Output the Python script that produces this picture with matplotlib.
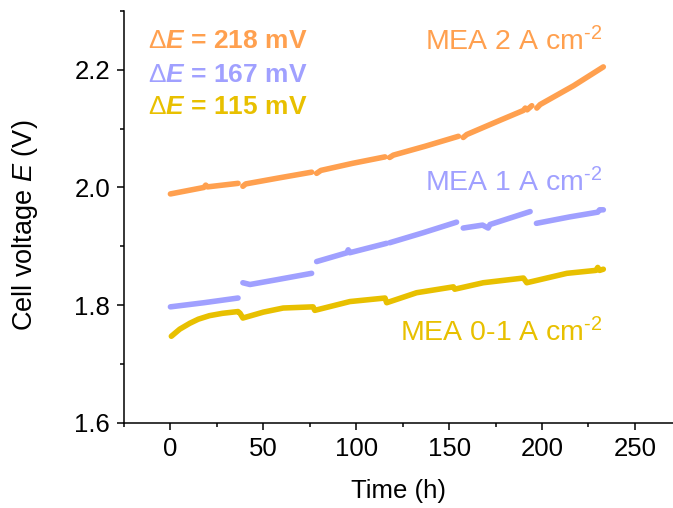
import numpy as np
import matplotlib
matplotlib.use('Agg')
import matplotlib.pyplot as plt
from matplotlib.ticker import MultipleLocator

plt.rcParams['font.family'] = ['Liberation Sans', 'DejaVu Sans']
plt.rcParams['mathtext.fontset'] = 'custom'
plt.rcParams['mathtext.rm'] = 'Liberation Sans'
plt.rcParams['mathtext.it'] = 'Liberation Sans:italic'
plt.rcParams['mathtext.bf'] = 'Liberation Sans:bold'
plt.rcParams['mathtext.bfit'] = 'Liberation Sans:bold:italic'

nan = np.nan

#----------------------------------------
# MEA 2 A cm-2 (gaps between test blocks as nan)
t_2A = [0, 18, 19, 20, 36.4, nan,
        39, 40.5, 58, 76, nan,
        78.7, 81, 98, 115.5, nan,
        118, 120, 137, 155, nan,
        157.6, 159.5, 176.5, 190, 191, 192, 194.5, nan,
        197.2, 199, 217, 233]
v_2A = [1.989, 2.000, 2.004, 2.001, 2.007, nan,
        2.002, 2.006, 2.016, 2.026, nan,
        2.024, 2.029, 2.041, 2.052, nan,
        2.051, 2.055, 2.070, 2.087, nan,
        2.085, 2.090, 2.113, 2.131, 2.135, 2.132, 2.139, nan,
        2.135, 2.141, 2.173, 2.205]

# MEA 1 A cm-2
t_1A = [0, 18, 36.4, nan,
        39, 42.8, 57, 76, nan,
        78.7, 95, 95.7, 96.5, 116.3, nan,
        118, 136, 154, nan,
        157.6, 168, 171, 172, 193.6, nan,
        197, 215, 230, 231, 233]
v_1A = [1.797, 1.804, 1.812, nan,
        1.838, 1.835, 1.843, 1.854, nan,
        1.874, 1.889, 1.894, 1.889, 1.905, nan,
        1.906, 1.923, 1.941, nan,
        1.931, 1.936, 1.931, 1.937, 1.959, nan,
        1.939, 1.950, 1.958, 1.962, 1.962]

# MEA 0-1 A cm-2
t_01A = [0.5, 5, 10.4, 15, 21, 28, 36.4, 37.5, 39, 50, 60.7, 76.8, 77.7,
         96.6, 115.5, 116.4, 132.5, 152.3, 153, 168.4, 190, 191.8, 213.4,
         229, 230, 231, 233]
v_01A = [1.747, 1.759, 1.769, 1.776, 1.782, 1.786, 1.789, 1.786, 1.778,
         1.788, 1.795, 1.797, 1.791, 1.806, 1.812, 1.804, 1.821, 1.831,
         1.827, 1.838, 1.846, 1.838, 1.854, 1.859, 1.864, 1.859, 1.861]

c_2A = '#FFA04F'
c_1A = '#A0A0FF'
c_01A = '#E8C000'

#----------------------------------------
fig = plt.figure(figsize=(6.73, 5.08), dpi=100)
ax = fig.add_axes([0.1842, 0.1679, 0.8158, 0.8104])

for t, v, c in [(t_2A, v_2A, c_2A), (t_1A, v_1A, c_1A), (t_01A, v_01A, c_01A)]:
    ax.plot(t, v, '-', color=c, lw=4, solid_capstyle='round', solid_joinstyle='round')

ax.set_xlim(-25, 270.5)
ax.set_ylim(1.6, 2.3)
ax.xaxis.set_major_locator(MultipleLocator(50))
ax.xaxis.set_minor_locator(MultipleLocator(25))
ax.yaxis.set_major_locator(MultipleLocator(0.2))
ax.yaxis.set_minor_locator(MultipleLocator(0.1))
ax.tick_params(which='major', direction='out', length=5, width=1.1, labelsize=18.5, pad=5)
ax.tick_params(which='minor', direction='out', length=2.8, width=1.1)
ax.spines['top'].set_visible(False)
ax.spines['right'].set_visible(False)
for s in ['left', 'bottom']:
    ax.spines[s].set_linewidth(1.1)

ax.set_xlabel('Time (h)', fontsize=18.5, labelpad=13)
ax.set_ylabel(r'Cell voltage $\mathit{E}$ (V)', fontsize=19.5)
ax.yaxis.set_label_coords(-0.153, 0.48)

ax.text(-12.2, 2.2367, r'$\Delta\mathbfit{E}$ = 218 mV', color=c_2A, fontsize=19, fontweight='bold', va='baseline')
ax.text(-12.2, 2.1799, r'$\Delta\mathbfit{E}$ = 167 mV', color=c_1A, fontsize=19, fontweight='bold', va='baseline')
ax.text(-12.2, 2.1245, r'$\Delta\mathbfit{E}$ = 115 mV', color=c_01A, fontsize=19, fontweight='bold', va='baseline')

ax.text(232.4, 2.2327, 'MEA 2 A cm$^{\u20102}$', color=c_2A, fontsize=20.5, ha='right', va='baseline')
ax.text(232.4, 1.9929, 'MEA 1 A cm$^{\u20102}$', color=c_1A, fontsize=20.5, ha='right', va='baseline')
ax.text(232.4, 1.7378, 'MEA 0-1 A cm$^{\u20102}$', color=c_01A, fontsize=20.5, ha='right', va='baseline')

plt.savefig('out.png', dpi=100)
